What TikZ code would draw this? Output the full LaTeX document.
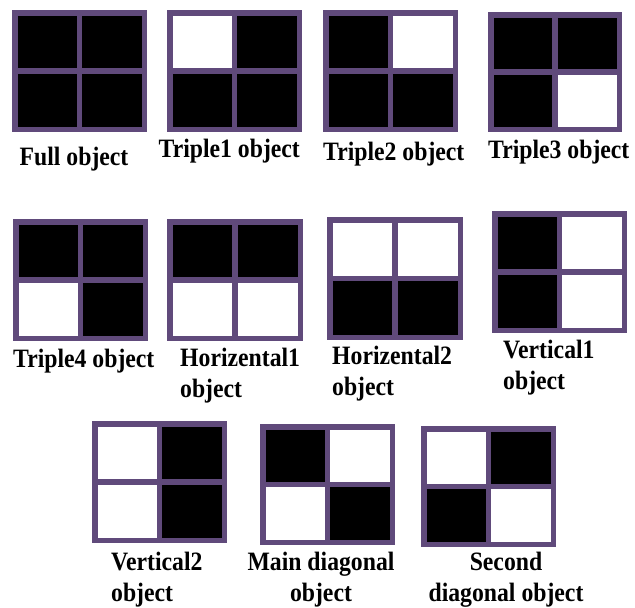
\documentclass[tikz,border=0pt]{standalone}
\usepackage{fontspec}
\setmainfont{Liberation Serif}
\usepackage{graphicx}
\definecolor{gridpurple}{HTML}{604A7B}
\tikzset{
  gridline/.style={draw=gridpurple, line width=5.5pt},
  lbl/.style={font=\fontsize{26.5}{31}\selectfont\bfseries, inner sep=0pt}
}
\newcommand\sq[1]{\scalebox{0.895}[1]{#1}}
% x1 y1 x2 y2 (pixel coords, y down), then colours tl tr bl br
\newcommand\cellgrid[8]{%
  \pgfmathsetmacro\gxm{(#1+#3)/2}\pgfmathsetmacro\gym{(#2+#4)/2}%
  \pgfmathsetmacro\gxa{#1+2.75}\pgfmathsetmacro\gya{#2+2.75}%
  \pgfmathsetmacro\gxb{#3-2.75}\pgfmathsetmacro\gyb{#4-2.75}%
  \fill[#5] (#1,#2) rectangle (\gxm,\gym);
  \fill[#6] (\gxm,#2) rectangle (#3,\gym);
  \fill[#7] (#1,\gym) rectangle (\gxm,#4);
  \fill[#8] (\gxm,\gym) rectangle (#3,#4);
  \draw[gridline] (\gxm,#2) -- (\gxm,#4);
  \draw[gridline] (#1,\gym) -- (#3,\gym);
  \draw[gridline] (\gxa,\gya) rectangle (\gxb,\gyb);
}
\begin{document}
\begin{tikzpicture}[x=1pt,y=-1pt]
\useasboundingbox[fill=white] (0,0) rectangle (635,608);
% row 1
\cellgrid{12}{10}{147}{132}{black}{black}{black}{black}
\cellgrid{167}{10}{302}{132}{white}{black}{black}{black}
\cellgrid{323}{10}{458}{132}{black}{white}{black}{black}
\cellgrid{488}{12}{622}{132}{black}{black}{black}{white}
% row 2
\cellgrid{13}{219}{148}{341}{black}{black}{white}{black}
\cellgrid{167}{219}{303}{341}{black}{black}{white}{white}
\cellgrid{327}{217}{463}{340}{white}{white}{black}{black}
\cellgrid{492}{211}{627}{333}{black}{white}{black}{white}
% row 3
\cellgrid{92}{421}{227}{543}{white}{black}{white}{black}
\cellgrid{260}{424}{395}{545}{black}{white}{white}{black}
\cellgrid{421}{426}{556}{547}{white}{black}{black}{white}
% labels (base = baseline of the last line)
\node[lbl, anchor=base west] (lfull) at (19.5,165.5) {\sq{Full object}};
\node[lbl, anchor=base west] (ltri1) at (158.5,157.5) {\sq{Triple1 object}};
\node[lbl, anchor=base west] (ltri2) at (323,160) {\sq{Triple2 object}};
\node[lbl, anchor=base west] (ltri3) at (488,158.5) {\sq{Triple3 object}};
\node[lbl, anchor=base west] (ltri4) at (13,367) {\sq{Triple4 object}};
\node[lbl, anchor=base west, align=left] (lhor1) at (180,397) {\sq{Horizental1}\\\sq{object}};
\node[lbl, anchor=base west, align=left] (lhor2) at (332,395.5) {\sq{Horizental2}\\\sq{object}};
\node[lbl, anchor=base west, align=left] (lver1) at (503,389) {\sq{Vertical1}\\\sq{object}};
\node[lbl, anchor=base west, align=left] (lver2) at (111,601) {\sq{Vertical2}\\\sq{object}};
\node[lbl, anchor=base, align=center] (lmain) at (321,601.5) {\sq{Main diagonal}\\\sq{object}};
\node[lbl, anchor=base, align=center] (lsec) at (506,601) {\sq{Second}\\\sq{diagonal object}};
\end{tikzpicture}
\end{document}
